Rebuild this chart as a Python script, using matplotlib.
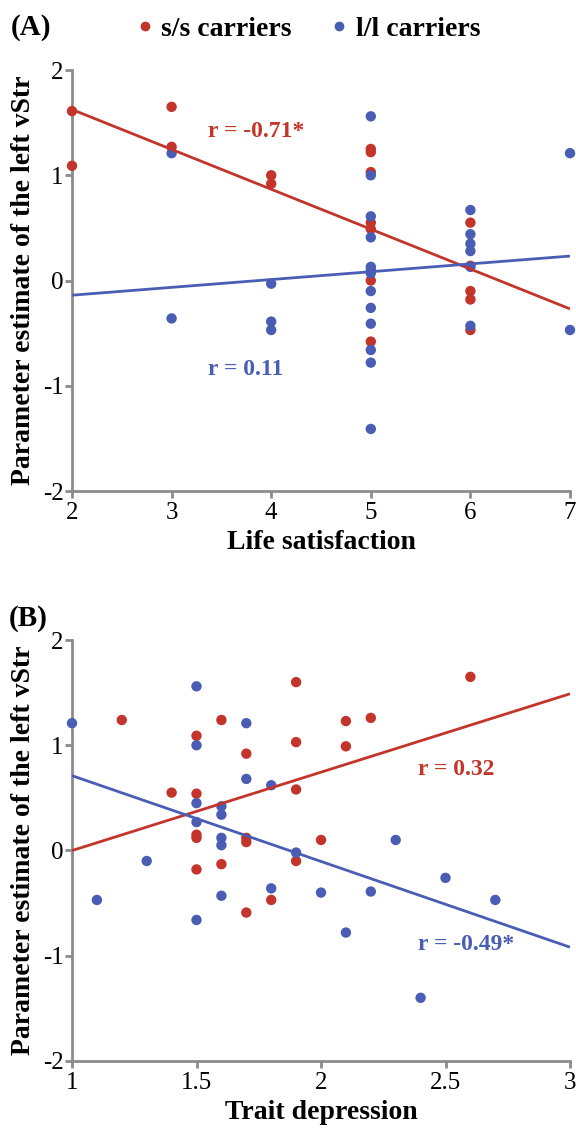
import numpy as np
import matplotlib
matplotlib.use("Agg")
import matplotlib.pyplot as plt
from matplotlib.lines import Line2D

plt.rcParams['font.family'] = ['Liberation Serif', 'DejaVu Serif']
plt.rcParams['axes.unicode_minus'] = False

RED = '#c3342b'
BLUE = '#4a5db4'
GREY = '#8c8c8c'

# (A) life satisfaction
a_ss_x = [2, 2, 3, 3, 4, 4, 5, 5, 5, 5, 5, 5, 5, 6, 6, 6, 6, 6]
a_ss_y = [1.61, 1.09, 1.65, 1.27, 1.00, 0.92, 1.25, 1.22, 1.03, 0.55, 0.49, 0.00, -0.58,
          0.55, 0.14, -0.10, -0.18, -0.47]
a_ll_x = [3, 3, 4, 4, 4, 5, 5, 5, 5, 5, 5, 5, 5, 5, 5, 5, 5, 5,
          6, 6, 6, 6, 6, 6, 7, 7]
a_ll_y = [1.21, -0.36, -0.03, -0.39, -0.47, 1.56, 1.00, 0.61, 0.41, 0.13, 0.10, 0.07,
          -0.10, -0.26, -0.41, -0.66, -0.78, -1.41,
          0.67, 0.44, 0.35, 0.28, 0.13, -0.43, 1.21, -0.47]

# (B) trait depression
b_ss_x = [1.2, 1.4, 1.5, 1.5, 1.5, 1.5, 1.5, 1.6, 1.6, 1.7, 1.7, 1.7, 1.7, 1.8,
          1.9, 1.9, 1.9, 1.9, 2.0, 2.1, 2.1, 2.2, 2.6]
b_ss_y = [1.24, 0.55, 1.09, 0.54, 0.15, 0.12, -0.18, 1.24, -0.13, 0.92, 0.12, 0.08, -0.59,
          -0.47, 1.60, 1.03, 0.58, -0.10, 0.10, 1.23, 0.99, 1.26, 1.65]
b_ll_x = [1.0, 1.1, 1.3, 1.5, 1.5, 1.5, 1.5, 1.5, 1.6, 1.6, 1.6, 1.6, 1.6, 1.7, 1.7,
          1.8, 1.8, 1.9, 2.0, 2.1, 2.2, 2.3, 2.4, 2.5, 2.7]
b_ll_y = [1.21, -0.47, -0.10, 1.56, 1.00, 0.45, 0.27, -0.66, 0.42, 0.34, 0.12, 0.05, -0.43,
          1.21, 0.68, 0.62, -0.36, -0.02, -0.40, -0.78, -0.39, 0.10, -1.40, -0.26, -0.47]

r_text_a = ['r = -0.71*', 'r = 0.11']
r_text_b = ['r = 0.32', 'r = -0.49*']

fig = plt.figure(figsize=(5.76, 11.33), dpi=100)
axA = fig.add_axes([0.125, 0.5666, 0.8646, 0.3716])
axB = fig.add_axes([0.125, 0.0636, 0.8646, 0.3715])


def panel(ax, xs, ys, xlim, xticks, xticklabels, xlabel):
    for (x, y, c) in zip(xs, ys, [RED, BLUE]):
        ax.scatter(x, y, s=56, color=c, edgecolors='none', zorder=3, clip_on=False)
    # trend lines fitted to the points
    for (x, y, c) in zip(xs, ys, [RED, BLUE]):
        k, b = np.polyfit(x, y, 1)
        ax.plot(xlim, [k * xlim[0] + b, k * xlim[1] + b], color=c, lw=2, zorder=4,
                solid_capstyle='butt')
    ax.set_xlim(xlim)
    ax.set_ylim(-2, 2)
    ax.set_xticks(xticks)
    ax.set_xticklabels(xticklabels)
    ax.set_yticks([-2, -1, 0, 1, 2])
    ax.set_yticklabels(['-2', '-1', '0', '1', '2'])
    for s in ['top', 'right']:
        ax.spines[s].set_visible(False)
    for s in ['left', 'bottom']:
        ax.spines[s].set_color(GREY)
        ax.spines[s].set_linewidth(2)
    ax.tick_params(direction='out', length=5, width=2, color=GREY, labelsize=18)
    ax.tick_params(axis='x', pad=3)
    ax.tick_params(axis='y', pad=1)
    ax.set_xlabel(xlabel, fontsize=20, fontweight='bold', labelpad=4)
    ax.set_ylabel('Parameter estimate of the left vStr', fontsize=20, fontweight='bold',
                  labelpad=5)


panel(axA, [a_ss_x, a_ll_x], [a_ss_y, a_ll_y], [2, 7], [2, 3, 4, 5, 6, 7],
      ['2', '3', '4', '5', '6', '7'], 'Life satisfaction')
panel(axB, [b_ss_x, b_ll_x], [b_ss_y, b_ll_y], [1, 3], [1, 1.5, 2, 2.5, 3],
      ['1', '1.5', '2', '2.5', '3'], 'Trait depression')

axA.text(3.37, 1.42, r_text_a[0], color=RED, fontsize=17, fontweight='bold', va='center')
axA.text(3.37, -0.85, r_text_a[1], color=BLUE, fontsize=17, fontweight='bold', va='center')
axB.text(2.39, 0.77, r_text_b[0], color=RED, fontsize=17, fontweight='bold', va='center')
axB.text(2.39, -0.89, r_text_b[1], color=BLUE, fontsize=17, fontweight='bold', va='center')

fig.text(0.018, 0.988, '(A)', fontsize=21, fontweight='bold', va='top')
fig.text(0.015, 0.466, '(B)', fontsize=21, fontweight='bold', va='top')

handles = [Line2D([], [], marker='o', ls='none', color=RED, markersize=6),
           Line2D([], [], marker='o', ls='none', color=BLUE, markersize=6)]
fig.legend(handles, ['s/s carriers', 'l/l carriers'], loc='center',
           bbox_to_anchor=(0.535, 0.974), ncol=2, frameon=False, handlelength=0.6,
           handletextpad=0.3, columnspacing=1.4,
           prop={'family': 'Liberation Serif', 'weight': 'bold', 'size': 20})

fig.savefig('out.png', dpi=100)
